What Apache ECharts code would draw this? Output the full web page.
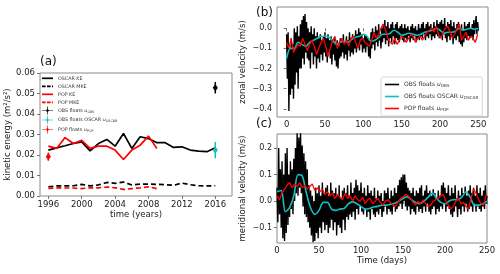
<!DOCTYPE html>
<html><head><meta charset="utf-8">
<script src="https://cdn.jsdelivr.net/npm/echarts@6/dist/echarts.min.js"></script>
<style>html,body{margin:0;padding:0;background:#fff}#c{width:500px;height:274px}</style>
</head><body><div id="c"></div>
<script>
// ---------- Panel (a) data ----------
const years = [1996,1997,1998,1999,2000,2001,2002,2003,2004,2005,2006,2007,2008,2009,2010,2011,2012,2013,2014,2015,2016];
const oscarKE = [0.0224,0.0235,0.0245,0.0256,0.0264,0.0220,0.0256,0.0276,0.0243,0.0305,0.0232,0.0289,0.0280,0.0260,0.0260,0.0237,0.0240,0.0224,0.0219,0.0216,0.0235];
const oscarMKE = [0.0045,0.0049,0.0049,0.0050,0.0057,0.0049,0.0054,0.0066,0.0062,0.0068,0.0054,0.0058,0.0058,0.0057,0.0055,0.0052,0.0063,0.0055,0.0050,0.0049,0.0050];
const popYears = [1996,1997,1998,1999,2000,2001,2002,2003,2004,2005,2006,2007,2008,2009];
const popKE = [0.0243,0.0232,0.0285,0.0256,0.0272,0.0232,0.0243,0.0243,0.0224,0.0178,0.0224,0.0248,0.0292,0.0232];
const popMKE = [0.0037,0.0040,0.0039,0.0039,0.0036,0.0040,0.0040,0.0044,0.0040,0.0032,0.0036,0.0040,0.0045,0.0036];
const floatYears = [2016, 2016, 1996];           // OBS floats, OBS floats OSCAR, POP floats
const floatKE    = [0.0528, 0.0224, 0.0192];
const floatErr   = [0.0028, 0.0040, 0.0020];

// ---------- Panel (b) zonal velocity ----------
const obsU = [
-0.03,-0.25,-0.02,-0.41,-0.1,-0.33,-0.05,-0.3,-0.08,-0.35,
0.0,-0.28,-0.02,-0.22,0.01,-0.3,-0.04,-0.2,0.02,-0.2,
0.04,-0.15,0.06,-0.18,0.07,-0.12,0.03,-0.15,0.0,-0.16,
-0.02,-0.2,0.01,-0.12,-0.03,-0.18,0.0,-0.14,-0.04,-0.2,
-0.02,-0.15,-0.05,-0.17,-0.03,-0.13,-0.06,-0.16,-0.04,-0.12,
-0.02,-0.14,-0.05,-0.17,-0.03,-0.12,-0.06,-0.15,-0.04,-0.18,
-0.07,-0.13,-0.05,-0.16,-0.08,-0.19,-0.06,-0.2,-0.09,-0.15,
-0.05,-0.14,-0.06,-0.12,-0.03,-0.15,-0.07,-0.13,-0.04,-0.16,
-0.06,-0.11,-0.02,-0.14,-0.05,-0.12,-0.03,-0.13,-0.04,-0.1,
-0.01,-0.12,-0.03,-0.09,0.0,-0.11,-0.02,-0.08,-0.03,-0.12,
-0.05,-0.1,-0.03,-0.12,-0.04,-0.09,-0.05,-0.14,-0.06,-0.15,
-0.02,-0.1,0.0,-0.08,-0.02,-0.11,0.01,-0.07,-0.01,-0.09,
0.02,-0.06,-0.03,-0.1,0.0,-0.07,0.02,-0.05,0.04,-0.08,
0.01,-0.06,0.03,-0.09,0.0,-0.05,0.02,-0.07,0.03,-0.04,
0.0,-0.08,0.02,-0.05,0.03,-0.06,0.0,-0.07,0.01,-0.04,
0.02,-0.06,0.0,-0.07,0.02,-0.05,0.0,-0.06,0.01,-0.04,
-0.01,-0.07,0.01,-0.05,0.02,-0.06,0.0,-0.04,0.01,-0.07,
-0.01,-0.05,0.02,-0.06,0.0,-0.04,0.02,-0.05,0.03,-0.03,
0.0,-0.06,0.02,-0.04,0.03,-0.05,0.01,-0.03,0.02,-0.06,
0.0,-0.04,0.03,-0.05,0.01,-0.03,0.04,-0.04,0.02,-0.05,
0.03,-0.04,0.04,-0.06,0.02,-0.03,0.05,-0.05,0.01,-0.07,
0.03,-0.04,0.02,-0.06,0.04,-0.03,0.01,-0.08,0.03,-0.05,
0.0,-0.06,0.02,-0.04,0.03,-0.07,0.0,-0.08,0.02,-0.09,
-0.01,-0.07,0.03,-0.05,0.01,-0.06,0.02,-0.04,0.03,-0.05,
0.0,-0.04,0.02,-0.06,0.04,-0.03,0.02,0.06,-0.03,0.03,-0.01];
const oscarU = [
-0.15,-0.1,-0.1,-0.07,-0.08,-0.09,-0.07,-0.06,-0.05,-0.04,
-0.04,-0.045,-0.06,-0.08,-0.07,-0.065,-0.07,-0.055,-0.045,-0.04,
-0.03,-0.04,-0.065,-0.06,-0.045,-0.03,-0.03,-0.025,-0.01,-0.02,
-0.035,-0.03,-0.025,-0.03,-0.035,-0.03,-0.02,-0.015,-0.01,0.0,
-0.01,-0.025,-0.02,-0.02,-0.015,0.0,-0.01,-0.005,0.0,-0.005,
0.0];
const popU = [
-0.07,-0.1,-0.05,-0.12,-0.1,-0.08,-0.09,-0.05,-0.08,-0.11,
-0.08,-0.06,-0.09,-0.13,-0.1,-0.07,-0.05,-0.09,-0.14,-0.1,
-0.06,-0.04,-0.1,-0.07,-0.05,-0.08,-0.06,-0.09,-0.05,-0.04,
-0.07,-0.1,-0.06,-0.05,-0.07,-0.08,-0.09,-0.06,-0.02,-0.05,
-0.03,0.0,0.02,-0.01,-0.05,-0.07,-0.08,-0.05,-0.08,-0.06,
-0.04,-0.05,-0.07,-0.05,-0.03,-0.04,-0.07,-0.05,-0.04,-0.06,
-0.04,-0.02,-0.01,0.0,-0.02,0.01,-0.03,-0.05,-0.02,0.0,
0.01,-0.02,-0.05,-0.03,0.0,0.02,-0.06,-0.04,-0.02,-0.06,
-0.04,-0.05,-0.07,-0.03];

// ---------- Panel (c) meridional velocity ----------
const obsV = [
0.05,-0.08,0.2,-0.05,0.12,-0.1,0.15,-0.14,0.1,-0.15,
0.18,-0.12,0.2,-0.09,0.1,-0.06,0.15,-0.03,0.12,-0.05,
0.16,0.0,0.2,0.03,0.26,0.02,0.24,0.05,0.26,0.03,
0.21,-0.02,0.18,-0.05,0.15,-0.06,0.12,-0.08,0.06,-0.1,
0.04,-0.13,0.02,-0.155,0.0,-0.15,0.05,-0.12,0.03,-0.14,
0.06,-0.1,0.02,-0.12,0.07,-0.08,0.03,-0.11,0.05,-0.09,
0.06,-0.12,0.02,-0.1,0.07,-0.07,0.04,-0.11,0.03,-0.08,
0.05,-0.13,0.02,-0.09,0.06,-0.1,0.01,-0.12,0.04,-0.07,
0.05,-0.11,0.03,-0.06,0.06,-0.07,0.02,-0.05,0.07,-0.06,
0.03,-0.04,0.05,-0.07,0.08,-0.03,0.06,-0.05,0.04,-0.02,
0.07,-0.04,0.03,-0.05,0.05,-0.03,0.02,-0.06,0.06,-0.04,
0.03,-0.07,0.04,-0.03,0.02,-0.05,0.05,-0.06,0.01,-0.04,
0.04,-0.05,0.02,-0.03,0.03,-0.06,0.0,-0.04,0.04,-0.02,
0.03,-0.05,0.05,-0.03,0.01,-0.04,0.04,-0.05,0.02,-0.02,
0.05,-0.04,0.03,-0.03,0.06,-0.02,0.08,-0.01,0.09,-0.03,
0.1,0.0,0.1,-0.02,0.07,-0.035,0.05,-0.02,0.04,-0.05,
0.03,-0.03,0.05,-0.04,0.02,-0.05,0.04,-0.02,0.03,-0.04,
0.05,-0.03,0.06,-0.045,0.02,-0.02,0.04,-0.04,0.06,-0.01,
0.03,-0.04,0.04,-0.05,0.02,-0.03,0.045,-0.02,0.03,-0.05,
0.01,-0.03,0.04,-0.04,0.02,-0.02,0.06,-0.03,0.07,-0.01,
0.05,-0.04,0.03,-0.02,0.06,-0.03,0.02,-0.05,0.05,-0.06,
0.03,-0.04,0.06,-0.02,0.01,-0.06,0.04,-0.03,0.02,-0.05,
0.05,-0.02,0.03,-0.04,0.055,-0.01,0.02,-0.04,0.04,-0.03,
0.06,-0.02,0.03,-0.04,0.05,-0.01,0.02,-0.04,0.06,-0.02,
0.03,-0.03,0.05,-0.04,0.02,-0.02,0.04,-0.03,0.06,-0.01,0.02];
const oscarV = [
0.035,0.04,-0.04,-0.025,0.02,0.1,0.095,0.03,-0.025,-0.05,
-0.035,-0.005,-0.005,-0.03,-0.035,-0.03,-0.028,-0.01,-0.003,-0.01,
-0.02,-0.03,-0.028,-0.022,-0.02,-0.015,-0.015,-0.012,-0.008,0.0,
0.01,0.017,0.005,-0.005,-0.01,0.0,0.015,0.03,0.01,-0.005,
-0.01,0.0,0.005,0.005,0.015,0.035,0.015,-0.015,-0.015,-0.01,
0.0];
const popV = [
0.02,0.005,0.03,0.045,0.06,0.07,0.05,0.065,0.055,0.07,
0.05,0.06,0.045,0.055,0.065,0.04,0.05,0.035,0.045,0.025,
0.035,0.02,0.03,0.01,0.025,0.015,0.005,0.03,0.01,0.02,
0.0,0.02,0.005,0.0,0.015,-0.01,0.005,0.01,-0.01,0.0,
0.01,-0.005,-0.015,0.0,0.005,-0.005,-0.015,-0.02,-0.005,0.01,
0.015,0.025,0.02,0.01,-0.005,-0.015,0.0,-0.01,0.005,-0.01,
-0.02,-0.015,0.0,0.005,0.01,0.02,0.025,0.0,-0.015,-0.03,
-0.02,0.0,0.01,-0.01,-0.005,-0.02,-0.03,0.01,0.045,0.03,
0.005,-0.01,-0.015,0.025];
const obsStep = 1, oscarStep = 5, popStep = 3;   // days between samples

// ---------- Tick labels ----------
const yearTicks = [1996,2000,2004,2008,2012,2016];
const dayTicks = [0,50,100,150,200,250];
const uTicks = [-0.4,-0.3,-0.2,-0.1,0.0];
const vTicks = [-0.1,0.0,0.1,0.2];

// ---------- helpers ----------
const zip = (xs, ys) => ys.map((v,i)=>[xs[i], v]);
const byDay = (arr, step) => arr.map((v,i)=>[i*step, v]);
const minus = v => (v < -1e-9 ? '\u2212' + Math.abs(v).toFixed(1) : Math.abs(v).toFixed(1));
const FONT = 'DejaVu Sans';
const TXT = '#1a1a1a';
const CYAN = '#14bdbd';
const ebIcon = 'path://M0,7.3H22V8.7H0Z M10.3,0H11.7V16H10.3Z M11,4L14,8L11,12L8,8Z';
const solidIcon = 'path://M0,0H30V1H0Z';
const dashIcon = 'path://M0,0H10V1H0Z M13.5,0H23.5V1H13.5Z M27,0H30V1H27Z';

function floatSeries(name, i, color) {
  return {
    name, type:'custom', xAxisIndex:0, yAxisIndex:0, itemStyle:{color}, z:5,
    data:[[floatYears[i], floatKE[i], floatKE[i]-floatErr[i], floatKE[i]+floatErr[i]]],
    renderItem:(p, api) => {
      const c = api.coord([api.value(0), api.value(1)]);
      const lo = api.coord([api.value(0), api.value(2)]);
      const hi = api.coord([api.value(0), api.value(3)]);
      const col = api.visual('color');
      return {type:'group', children:[
        {type:'line', shape:{x1:lo[0],y1:lo[1],x2:hi[0],y2:hi[1]}, style:{stroke:col, lineWidth:1.5}},
        {type:'polygon', shape:{points:[[c[0],c[1]-3.6],[c[0]+2.6,c[1]],[c[0],c[1]+3.6],[c[0]-2.6,c[1]]]}, style:{fill:col}}
      ]};
    }
  };
}

const labelsA = {
  aOscarKE:'OSCAR KE', aOscarMKE:'OSCAR MKE', aPopKE:'POP KE', aPopMKE:'POP MKE',
  aObs:'OBS floats {u|u}{s|OBS}', aObsOscar:'OBS floats OSCAR {u|u}{s|OSCAR}', aPop:'POP floats {u|u}{s|POP}'
};
const labelsB = {
  bObs:'OBS floats {u|u}{s|OBS}', bOscar:'OBS floats OSCAR {u|u}{s|OSCAR}', bPop:'POP floats {u|u}{s|POP}'
};
const legTextA = {fontFamily:FONT, fontSize:4.8, color:'#333', lineHeight:6,
  rich:{u:{fontFamily:FONT, fontSize:4.8, fontStyle:'italic', color:'#333', lineHeight:6},
        s:{fontFamily:FONT, fontSize:3.3, color:'#333', verticalAlign:'bottom', lineHeight:6}}};

const axisCommon = {
  axisLine:{show:false}, splitLine:{show:false},
  axisTick:{show:true, length:3, lineStyle:{color:'#555', width:0.8}},
  nameTextStyle:{fontFamily:FONT, fontSize:8.5, color:TXT},
};
const lblStyle = (size, margin) => ({fontFamily:FONT, fontSize:size, color:TXT, margin});

const chart = echarts.init(document.getElementById('c'), null, {renderer:'canvas'});
chart.setOption({
  animation:false,
  backgroundColor:'#fff',
  grid:[
    {left:40, top:73, width:192, height:123, show:true, borderColor:'#8a8a8a', borderWidth:1, containLabel:false},
    {left:277, top:7, width:211, height:110, show:true, borderColor:'#8a8a8a', borderWidth:1, containLabel:false},
    {left:277, top:134, width:210, height:109, show:true, borderColor:'#8a8a8a', borderWidth:1, containLabel:false}
  ],
  xAxis:[
    Object.assign({}, axisCommon, {type:'value', gridIndex:0, min:1995, max:2018,
      axisTick:Object.assign({}, axisCommon.axisTick, {customValues:yearTicks}),
      axisLabel:Object.assign(lblStyle(8.5,4), {customValues:yearTicks, formatter:v=>String(v)}),
      name:'time (years)', nameLocation:'middle', nameGap:13}),
    Object.assign({}, axisCommon, {type:'value', gridIndex:1, min:-12.5, max:262.5,
      axisTick:Object.assign({}, axisCommon.axisTick, {customValues:dayTicks}),
      axisLabel:Object.assign(lblStyle(8.5,3), {customValues:dayTicks, formatter:v=>String(v)})}),
    Object.assign({}, axisCommon, {type:'value', gridIndex:2, min:0, max:250, interval:50,
      axisLabel:Object.assign(lblStyle(8.5,3), {formatter:v=>String(v)}),
      name:'Time (days)', nameLocation:'middle', nameGap:13})
  ],
  yAxis:[
    Object.assign({}, axisCommon, {type:'value', gridIndex:0, min:0, max:0.06, interval:0.01,
      axisLabel:Object.assign(lblStyle(8.5,5), {formatter:v=>v.toFixed(2)}),
      name:'kinetic energy (m\u00b2/s\u00b2)', nameLocation:'middle', nameGap:24, nameRotate:90}),
    Object.assign({}, axisCommon, {type:'value', gridIndex:1, min:-0.44, max:0.105,
      axisTick:Object.assign({}, axisCommon.axisTick, {customValues:uTicks}),
      axisLabel:Object.assign(lblStyle(8,5), {customValues:uTicks, formatter:minus}),
      name:'zonal velocity (m/s)', nameLocation:'middle', nameGap:30, nameRotate:90}),
    Object.assign({}, axisCommon, {type:'value', gridIndex:2, min:-0.158, max:0.253,
      axisTick:Object.assign({}, axisCommon.axisTick, {customValues:vTicks}),
      axisLabel:Object.assign(lblStyle(8,5), {customValues:vTicks, formatter:minus}),
      name:'meridional velocity (m/s)', nameLocation:'middle', nameGap:30, nameRotate:90})
  ],
  legend:[
    {orient:'vertical', left:42, top:75.3, padding:0, itemWidth:11, itemHeight:1.7, itemGap:2, symbolKeepAspect:false,
      data:[{name:'aOscarKE', icon:solidIcon},{name:'aOscarMKE', icon:dashIcon},{name:'aPopKE', icon:solidIcon},{name:'aPopMKE', icon:dashIcon}],
      formatter:n=>labelsA[n], textStyle:legTextA},
    {orient:'vertical', left:42, top:106.5, padding:0, itemWidth:11, itemHeight:8, itemGap:1.5, symbolKeepAspect:false,
      data:[{name:'aObs', icon:ebIcon},{name:'aObsOscar', icon:ebIcon},{name:'aPop', icon:ebIcon}],
      formatter:n=>labelsA[n], textStyle:legTextA},
    {orient:'vertical', left:381, top:77, padding:[4,4,4,4], itemWidth:14, itemHeight:1.6, itemGap:5, symbolKeepAspect:false,
      backgroundColor:'#fff', borderColor:'#cccccc', borderWidth:0.8, borderRadius:2,
      data:[{name:'bObs', icon:solidIcon},{name:'bOscar', icon:solidIcon},{name:'bPop', icon:solidIcon}],
      formatter:n=>labelsB[n],
      textStyle:{fontFamily:FONT, fontSize:6, color:'#333', lineHeight:7,
        rich:{u:{fontFamily:FONT, fontSize:6, fontStyle:'italic', color:'#333', lineHeight:7},
              s:{fontFamily:FONT, fontSize:4.2, color:'#333', verticalAlign:'bottom', lineHeight:7}}}}
  ],
  graphic:[
    {type:'text', left:40, top:56, style:{text:'(a)', font:'12px "DejaVu Sans"', fill:'#111'}},
    {type:'text', left:256, top:7, style:{text:'(b)', font:'12px "DejaVu Sans"', fill:'#111'}},
    {type:'text', left:256, top:118, style:{text:'(c)', font:'12px "DejaVu Sans"', fill:'#111'}}
  ],
  series:[
    {name:'aOscarKE', type:'line', xAxisIndex:0, yAxisIndex:0, data:zip(years, oscarKE), symbol:'none', lineStyle:{color:'#000', width:1.7}, itemStyle:{color:'#000'}},
    {name:'aOscarMKE', type:'line', xAxisIndex:0, yAxisIndex:0, data:zip(years, oscarMKE), symbol:'none', lineStyle:{color:'#000', width:1.7, type:[5,3]}, itemStyle:{color:'#000'}},
    {name:'aPopKE', type:'line', xAxisIndex:0, yAxisIndex:0, data:zip(popYears, popKE), symbol:'none', lineStyle:{color:'#ff0000', width:1.7}, itemStyle:{color:'#ff0000'}},
    {name:'aPopMKE', type:'line', xAxisIndex:0, yAxisIndex:0, data:zip(popYears, popMKE), symbol:'none', lineStyle:{color:'#ff0000', width:1.7, type:[5,3]}, itemStyle:{color:'#ff0000'}},
    floatSeries('aObs', 0, '#000'),
    floatSeries('aObsOscar', 1, CYAN),
    floatSeries('aPop', 2, '#ff0000'),

    {name:'bObs', type:'line', xAxisIndex:1, yAxisIndex:1, data:byDay(obsU, obsStep), symbol:'none', lineStyle:{color:'#000', width:1.4}, itemStyle:{color:'#000'}},
    {name:'bOscar', type:'line', xAxisIndex:1, yAxisIndex:1, data:byDay(oscarU, oscarStep), symbol:'none', smooth:0.3, lineStyle:{color:CYAN, width:1.6}, itemStyle:{color:CYAN}},
    {name:'bPop', type:'line', xAxisIndex:1, yAxisIndex:1, data:byDay(popU, popStep), symbol:'none', lineStyle:{color:'#ff0000', width:1.3}, itemStyle:{color:'#ff0000'}},

    {name:'cObs', type:'line', xAxisIndex:2, yAxisIndex:2, data:byDay(obsV, obsStep), symbol:'none', lineStyle:{color:'#000', width:1.4}, itemStyle:{color:'#000'}},
    {name:'cOscar', type:'line', xAxisIndex:2, yAxisIndex:2, data:byDay(oscarV, oscarStep), symbol:'none', smooth:0.3, lineStyle:{color:CYAN, width:1.6}, itemStyle:{color:CYAN}},
    {name:'cPop', type:'line', xAxisIndex:2, yAxisIndex:2, data:byDay(popV, popStep), symbol:'none', lineStyle:{color:'#ff0000', width:1.3}, itemStyle:{color:'#ff0000'}}
  ]
});
</script></body></html>
